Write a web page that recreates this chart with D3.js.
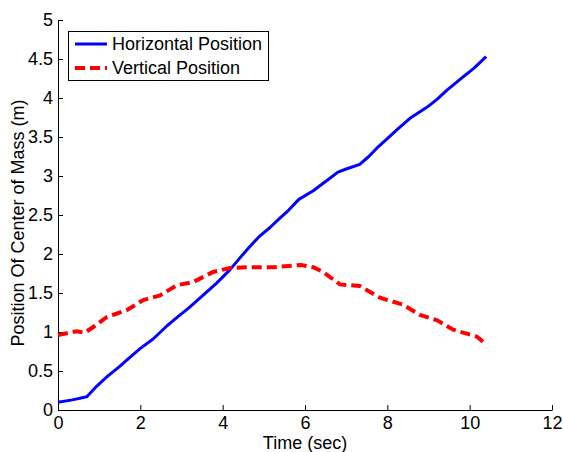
<!DOCTYPE html>
<html lang="en">
<head>
  <meta charset="UTF-8" />
  <title>Position Of Center of Mass</title>
  <script src="https://d3js.org/d3.v7.min.js"></script>
  <style>
    body, html {
      margin: 0;
      padding: 0;
      background: #fff;
    }
    svg text {
      font-family: Arial, "Liberation Sans", sans-serif;
      font-size: 18px;
      fill: #000;
    }
  </style>
</head>
<body>
  <svg id="chart" width="563" height="452"></svg>
  <script>
    // Horizontal position of the centre of mass (time in sec, position in m)
    const horizTime = [0, 0.35, 0.7, 0.95, 1.2, 1.5, 1.67, 2.0, 2.31, 2.65, 2.9, 3.2, 3.5, 3.86, 4.18, 4.42, 4.65, 4.9, 5.15, 5.39, 5.6, 5.85, 6.2, 6.5, 6.8, 7.0, 7.33, 7.55, 7.75, 8.0, 8.23, 8.55, 8.96, 9.2, 9.45, 9.84, 10.1, 10.4];
    const horizPos  = [0.1, 0.13, 0.17, 0.31, 0.43, 0.56, 0.64, 0.79, 0.91, 1.08, 1.19, 1.32, 1.46, 1.63, 1.8, 1.95, 2.09, 2.23, 2.34, 2.46, 2.56, 2.7, 2.81, 2.93, 3.05, 3.09, 3.15, 3.25, 3.36, 3.48, 3.59, 3.74, 3.88, 3.98, 4.1, 4.27, 4.38, 4.53];

    // Vertical position of the centre of mass
    const vertTime = [0, 0.45, 0.65, 0.9, 1.18, 1.67, 2.07, 2.48, 2.89, 3.28, 3.77, 4.18, 4.59, 5.22, 5.9, 6.2, 6.44, 6.85, 7.33, 7.82, 8.38, 8.79, 9.21, 9.6, 10.18, 10.4];
    const vertPos  = [0.96, 1.01, 0.99, 1.08, 1.19, 1.28, 1.41, 1.47, 1.6, 1.64, 1.77, 1.82, 1.83, 1.83, 1.86, 1.83, 1.77, 1.61, 1.59, 1.44, 1.35, 1.22, 1.15, 1.03, 0.94, 0.84];

    const xTicks = [0, 2, 4, 6, 8, 10, 12];
    const yTicks = [0, 0.5, 1, 1.5, 2, 2.5, 3, 3.5, 4, 4.5, 5];

    const seriesNames = ['Horizontal Position', 'Vertical Position'];
    const seriesColors = ['#0000ff', '#ff0000'];

    const svg = d3.select('#chart');
    const plotLeft = 58, plotRight = 552, plotTop = 20, plotBottom = 410;

    const x = d3.scaleLinear().domain([0, 12]).range([plotLeft, plotRight]);
    const y = d3.scaleLinear().domain([0, 5]).range([plotBottom, plotTop]);

    // axes (box off, ticks pointing inward)
    const xAxis = svg.append('g')
      .attr('transform', `translate(0,${plotBottom})`)
      .call(d3.axisBottom(x).tickValues(xTicks).tickFormat(d3.format('d'))
        .tickSizeInner(-5).tickSizeOuter(0).tickPadding(6));

    const yAxis = svg.append('g')
      .attr('transform', `translate(${plotLeft},0)`)
      .call(d3.axisLeft(y).tickValues(yTicks).tickFormat(d => String(d))
        .tickSizeInner(-5).tickSizeOuter(0).tickPadding(5));

    [xAxis, yAxis].forEach(a => {
      a.attr('font-family', null).attr('font-size', null);
      a.select('.domain').attr('stroke', '#000').attr('stroke-width', 1);
      a.selectAll('.tick line').attr('stroke', '#000');
    });

    // axis labels
    svg.append('text')
      .attr('x', (plotLeft + plotRight) / 2)
      .attr('y', 449)
      .attr('text-anchor', 'middle')
      .text('Time (sec)');

    svg.append('text')
      .attr('transform', 'translate(18,223) rotate(-90)')
      .attr('text-anchor', 'middle')
      .attr('dy', '0.35em')
      .text('Position Of Center of Mass (m)');

    // lines
    const line = d3.line().x(d => x(d[0])).y(d => y(d[1]));

    const horizData = horizTime.map((t, i) => [t, horizPos[i]]);
    const vertData = vertTime.map((t, i) => [t, vertPos[i]]);

    svg.append('path')
      .datum(horizData)
      .attr('fill', 'none')
      .attr('stroke', seriesColors[0])
      .attr('stroke-width', 3)
      .attr('stroke-linejoin', 'round')
      .attr('d', line);

    svg.append('path')
      .datum(vertData)
      .attr('fill', 'none')
      .attr('stroke', seriesColors[1])
      .attr('stroke-width', 4)
      .attr('stroke-dasharray', '10,5')
      .attr('d', line);

    // legend
    const legend = svg.append('g');
    legend.append('rect')
      .attr('x', 68.5).attr('y', 31.5)
      .attr('width', 200).attr('height', 49)
      .attr('fill', '#fff')
      .attr('stroke', '#000');

    seriesNames.forEach((name, i) => {
      const ly = 44 + i * 24;
      legend.append('line')
        .attr('x1', 75).attr('x2', 107)
        .attr('y1', ly).attr('y2', ly)
        .attr('stroke', seriesColors[i])
        .attr('stroke-width', i === 0 ? 3 : 4)
        .attr('stroke-dasharray', i === 0 ? null : '10,5');
      legend.append('text')
        .attr('x', 112).attr('y', ly)
        .attr('dy', '0.35em')
        .text(name);
    });
  </script>
</body>
</html>
